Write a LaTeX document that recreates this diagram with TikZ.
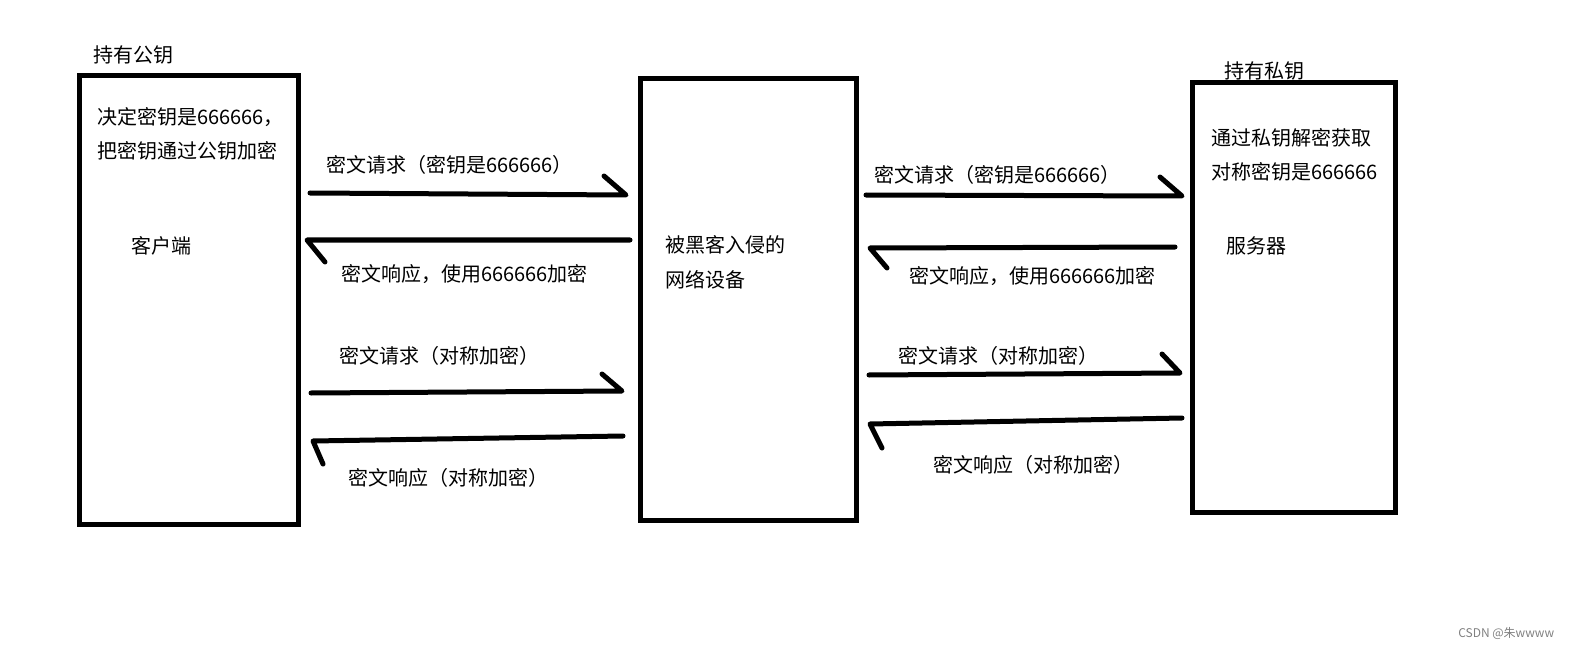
\documentclass[tikz,border=0pt]{standalone}
\usepackage{fontspec}
\setmainfont{Noto Sans CJK SC}
\usetikzlibrary{positioning,calc}
\tikzset{ARROW/.style={line width=3.75pt, line cap=round, line join=round}}
\tikzset{BOX/.style={rectangle, draw, line width=3.75pt, inner sep=0pt}}
\tikzset{LABEL/.style={anchor=west, inner sep=0pt, font=\fontsize{15pt}{18pt}\selectfont}}

\begin{document}
\begin{tikzpicture}[x=0.75pt, y=-0.75pt]
    \useasboundingbox (0,0) rectangle (1571,649);

    % the three parties
    \node[BOX, minimum width=164.25pt, minimum height=336pt] (n_client) at (188.5,300) {};
    \node[BOX, minimum width=162pt, minimum height=330.75pt] (n_device) at (748,299.5) {};
    \node[BOX, minimum width=152.25pt, minimum height=321.75pt] (n_server) at (1293.5,297.5) {};

    \node[LABEL] (t_pub) at (93,55) {持有公钥};
    \node[LABEL] (t_client1) at (97,117) {决定密钥是666666，};
    \node[LABEL] (t_client2) at (97,151) {把密钥通过公钥加密};
    \node[LABEL] (t_client) at (131,246) {客户端};

    \node[LABEL] (t_device1) at (665,245) {被黑客入侵的};
    \node[LABEL] (t_device2) at (665,280) {网络设备};

    \node[LABEL] (t_priv) at (1224,71) {持有私钥};
    \node[LABEL] (t_server1) at (1211,138) {通过私钥解密获取};
    \node[LABEL] (t_server2) at (1211,172) {对称密钥是666666};
    \node[LABEL] (t_server) at (1226,246) {服务器};

    % client <-> device
    \coordinate (req1) at (310,193);
    \coordinate (req1_end) at (626,195);
    \draw[ARROW] (req1) -- (req1_end) -- ++(-22,-19);
    \node[LABEL] (l_req1) at (326,165) {密文请求（密钥是666666）};

    \coordinate (resp1) at (630,240);
    \coordinate (resp1_end) at (307,240);
    \draw[ARROW] (resp1) -- (resp1_end) -- ++(18,22);
    \node[LABEL] (l_resp1) at (341,274) {密文响应，使用666666加密};

    \coordinate (req2) at (311,393);
    \coordinate (req2_end) at (622,391);
    \draw[ARROW] (req2) -- (req2_end) -- ++(-20,-17);
    \node[LABEL] (l_req2) at (339,356) {密文请求（对称加密）};

    \coordinate (resp2) at (623,436);
    \coordinate (resp2_end) at (313,441);
    \draw[ARROW] (resp2) -- (resp2_end) -- ++(10,23);
    \node[LABEL] (l_resp2) at (348,478) {密文响应（对称加密）};

    % device <-> server
    \coordinate (req3) at (866,195);
    \coordinate (req3_end) at (1182,196);
    \draw[ARROW] (req3) -- (req3_end) -- ++(-22,-19);
    \node[LABEL] (l_req3) at (874,175) {密文请求（密钥是666666）};

    \coordinate (resp3) at (1175,247);
    \coordinate (resp3_end) at (870,248);
    \draw[ARROW] (resp3) -- (resp3_end) -- ++(17,20);
    \node[LABEL] (l_resp3) at (909,276) {密文响应，使用666666加密};

    \coordinate (req4) at (869,375);
    \coordinate (req4_end) at (1180,373);
    \draw[ARROW] (req4) -- (req4_end) -- ++(-18,-19);
    \node[LABEL] (l_req4) at (898,356) {密文请求（对称加密）};

    \coordinate (resp4) at (1182,418);
    \coordinate (resp4_end) at (870,424);
    \draw[ARROW] (resp4) -- (resp4_end) -- ++(12,24);
    \node[LABEL] (l_resp4) at (933,465) {密文响应（对称加密）};

    \node[anchor=west, inner sep=0pt, text=gray, font=\fontsize{9pt}{10pt}\selectfont] (t_mark) at (1458,633) {CSDN @朱wwww};
\end{tikzpicture}
\end{document}
